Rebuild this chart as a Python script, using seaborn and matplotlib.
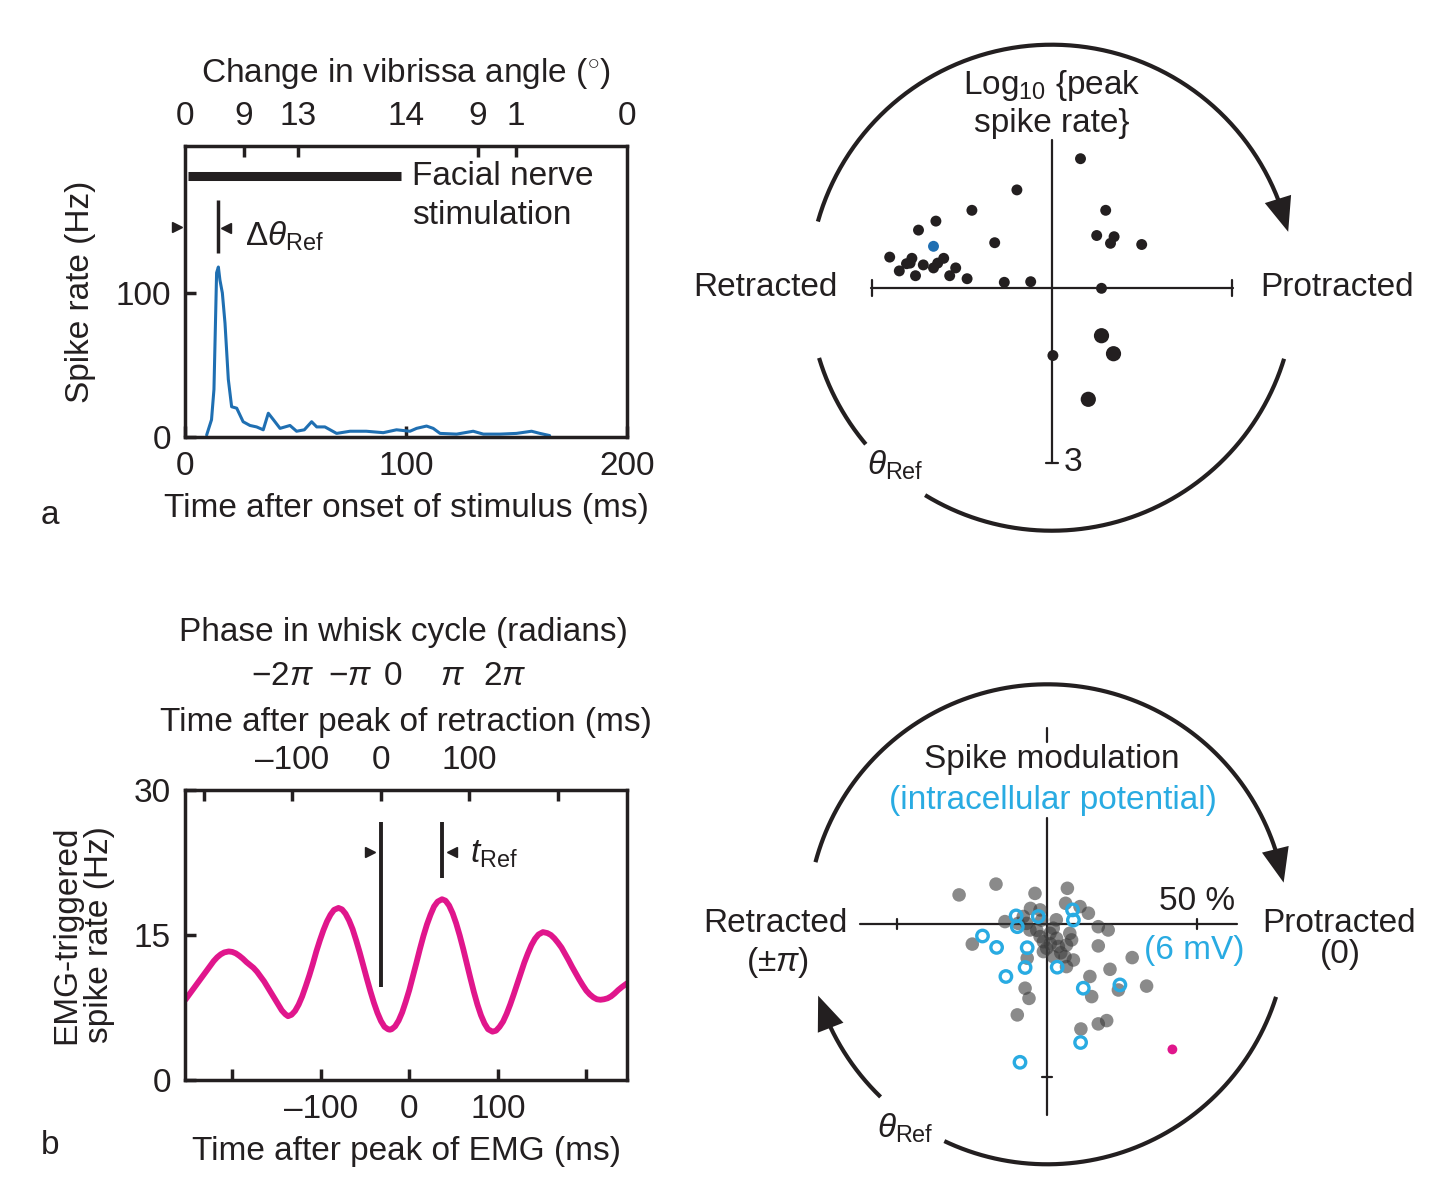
"""
Whisking / vibrissa spike-rate figure: PSTH, EMG-triggered rate and two
polar summaries of reference phase.
"""

import numpy as np
import matplotlib
matplotlib.use('Agg')
import matplotlib.pyplot as plt
import seaborn as sns

# ---------------- data ----------------
# panel a: spike rate after facial nerve stimulation
psth_t = [9.8, 12, 13.1, 14.3, 15.1, 15.8, 16.9, 18.1, 19.6, 21.1, 23.4, 26.3, 29.4,
          32.4, 35.4, 37.7, 40, 43, 47.5, 50.5, 54, 57.3, 59.6, 63.3, 68.6, 74.7,
          82, 89.7, 95.7, 101.8, 104.8, 109.3, 112.3, 115.4, 122.9, 130.4, 135,
          142.5, 150, 156.8, 160.6, 165]
psth_rate = [1.4, 12, 33, 114, 118, 109, 100, 79, 40, 21, 20, 10.6, 8,
             7, 5, 16.5, 12, 6, 8, 4, 5, 10.6, 7, 7, 2.5, 4,
             4, 3, 5, 4, 6, 7.6, 6, 2.5, 2, 4, 2,
             2, 2.5, 4, 2.5, 1]
angle_major_pos = [26.7, 51, 132.6, 149.8]
angle_major_lab = ['9', '13', '9', '1']
angle_minor_pos = [0, 100, 200]
angle_minor_lab = ['0', '14', '0']
stim_on, stim_off, stim_level = 1.4, 97.7, 181
dtheta_t, dtheta_lo, dtheta_hi = 15, 127.8, 164.6

# top-right polar: angle vs log10 peak spike rate (x, y in log10 units)
peak_x = [0.48, -0.58, -1.33, 0.90, -1.93, -2.22, 0.75, 1.04, 0.98, 1.50, -0.95,
          -2.70, -2.33, -2.42, -2.36, -2.54, -2.14, -2.27, -1.97, -1.90, -1.80,
          -1.70, -1.60, -1.41, -0.79, -0.35, 0.83, 0.02]
peak_y = [2.15, 1.63, 1.29, 1.29, 1.11, 0.96, 0.87, 0.85, 0.74, 0.72, 0.75,
          0.51, 0.49, 0.40, 0.41, 0.28, 0.38, 0.20, 0.33, 0.41, 0.49,
          0.20, 0.33, 0.15, 0.09, 0.10, -0.01, -1.13]
big_x = [0.83, 1.03, 0.61]
big_y = [-0.80, -1.10, -1.86]
example_x, example_y = [-1.97], [0.69]

# panel b: EMG-triggered spike rate
emg_t = [-253, -249, -245, -241, -237, -233, -229, -225, -221, -217, -213, -209, -204,
         -200, -196, -192, -188, -184, -180, -176, -172, -168, -164, -160, -156, -152,
         -148, -144, -140, -137, -133, -129, -125, -121, -117, -113, -109, -105, -101,
         -97, -93, -89, -85, -80, -76, -72, -68, -64, -60, -56, -52, -48, -44, -40,
         -36, -32, -28, -24, -22, -20, -16, -12, -8, -4, 0, 4, 8, 12, 16, 20, 24, 28,
         32, 37, 41, 45, 49, 53, 57, 61, 65, 69, 73, 77, 81, 85, 89, 94, 98, 102, 106,
         110, 114, 118, 122, 126, 130, 134, 138, 142, 146, 151, 156, 160, 164, 168, 172,
         176, 180, 184, 188, 192, 196, 200, 204, 208, 212, 216, 220, 224, 228, 232, 236,
         240, 246]
emg_rate = [8.3, 8.8, 9.3, 9.8, 10.3, 10.8, 11.3, 11.8, 12.3, 12.7, 13.0, 13.2, 13.3,
            13.25, 13.1, 12.85, 12.55, 12.2, 11.9, 11.6, 11.2, 10.7, 10.2, 9.6, 9.0, 8.4,
            7.8, 7.2, 6.8, 6.6, 6.75, 7.15, 7.8, 8.65, 9.7, 10.8, 12.0, 13.3, 14.45,
            15.5, 16.4, 17.1, 17.6, 17.8, 17.65, 17.2, 16.5, 15.6, 14.45, 13.2, 11.85,
            10.5, 9.2, 8.0, 6.95, 6.1, 5.5, 5.25, 5.2, 5.25, 5.55, 6.15, 7.0, 8.1, 9.3,
            10.7, 12.1, 13.55, 14.9, 16.1, 17.1, 17.95, 18.45, 18.7, 18.55, 18.05, 17.25,
            16.2, 14.95, 13.55, 12.05, 10.55, 9.1, 7.8, 6.7, 5.85, 5.25, 5.0, 5.1, 5.5,
            6.05, 6.85, 7.8, 8.85, 9.95, 11.05, 12.15, 13.1, 13.95, 14.6, 15.05, 15.3,
            15.2, 15.0, 14.65, 14.2, 13.7, 13.05, 12.4, 11.7, 11.05, 10.4, 9.8, 9.25,
            8.85, 8.55, 8.35, 8.3, 8.35, 8.45, 8.65, 8.95, 9.3, 9.6, 10.0]
retraction_offset = 32.3      # ms from EMG peak to retraction peak
tref_t = 37
phase_pos = [-143, -66.9, -18.4, 48.2, 107.6]
phase_lab = [r'$-2\pi$', r'$-\pi$', '0', r'$\pi$', r'$2\pi$']

# bottom-right polar: spike modulation (%) and Vm modulation
spike_x = [-29.4, -17.1, -4.1, 6.7, 6.1, 10.9, 13.7, -5.6, -2.4, -14.1, -6.9, -5.8,
           2.0, 3.1, -1.3, -0.2, 3.7, 6.4, 8.1, -1.3, 2.0, 5.9, 8.7, 6.4, 17.0,
           20.3, 17.0, -25.0, -6.7, 20.9, 28.3, 14.2, 23.7, 33.1, 14.8, -7.4, -6.1,
           -10.0, 11.2, 17.0, 19.8, -9.7, -8.0, -1.9, -2.4, 0.9, 1.0, 4.5, -3.5, 7.5, 3.0]
spike_y = [9.8, 13.4, 10.3, 12.0, 7.0, 5.9, 3.7, 5.3, 4.8, 0.9, 0.3, -1.9,
           -1.3, -4.7, -5.8, -8.0, -7.4, -6.9, -5.2, -9.1, -10.8, -10.8, -11.9, -14.1, -0.8,
           -1.9, -7.2, -6.6, -11.3, -15.0, -11.1, -17.4, -21.9, -20.6, -24.1, -21.3, -24.7,
           -30.2, -34.9, -33.2, -32.1, 0.3, 2.6, 1.4, -4.1, -3.0, -6.5, -9.5, -2.0, -3.0, 1.5]
vm_x = [-10.4, -10.0, -3.0, 8.4, 8.7, -21.6, -16.9, -6.7, -7.4, -13.8, 3.3, 12.0,
        24.2, 11.1, -9.1]
vm_y = [2.8, -0.8, 2.6, 4.8, 1.4, -3.9, -7.7, -7.8, -14.4, -17.4, -14.3, -21.3,
        -20.2, -39.4, -46.0]
emg_cell_x, emg_cell_y = [41.7], [-41.7]

# ---------------- style ----------------
sns.set_theme(style='ticks')
plt.rcParams['font.family'] = ['Liberation Sans', 'DejaVu Sans']
plt.rcParams['mathtext.fontset'] = 'custom'
plt.rcParams['mathtext.rm'] = 'Liberation Sans'
plt.rcParams['mathtext.it'] = 'Liberation Sans:italic'
plt.rcParams['mathtext.bf'] = 'Liberation Sans:bold'

K = '#231f20'
BLUE = '#1f6fb2'
MAGENTA = '#e0168c'
CYAN = '#29abe2'
FS = 24

W, H = 1454, 1198
fig = plt.figure(figsize=(W / 100, H / 100), dpi=100)


def px_axes(x0, y0, x1, y1):
    return fig.add_axes([x0 / W, 1 - y1 / H, (x1 - x0) / W, (y1 - y0) / H])


def box_style(ax):
    for s in ax.spines.values():
        s.set_linewidth(2.5)
        s.set_color(K)
        s.set_visible(True)
    ax.tick_params(direction='in', length=8, width=2.5, color=K,
                   labelsize=FS, labelcolor=K, pad=10)


# ---------------- panel a ----------------
ax_a = px_axes(185, 146, 627, 437)
box_style(ax_a)
sns.lineplot(x=psth_t, y=psth_rate, ax=ax_a, color=BLUE, lw=2.2)
ax_a.set_xlim(0, 200)
ax_a.set_ylim(0, 202)
ax_a.set_xticks([0, 100, 200])
ax_a.set_yticks([0, 100])
ax_a.set_xlabel('Time after onset of stimulus (ms)', fontsize=FS, color=K, labelpad=8)
ax_a.set_ylabel('Spike rate (Hz)', fontsize=FS, color=K, labelpad=14)

ax_at = ax_a.twiny()
ax_at.set_xlim(0, 200)
for s in ax_at.spines.values():
    s.set_visible(False)
ax_at.set_xticks(angle_major_pos, angle_major_lab)
ax_at.set_xticks(angle_minor_pos, angle_minor_lab, minor=True)
ax_at.tick_params(which='both', direction='in', length=8, width=2.5, color=K,
                  labelsize=FS, labelcolor=K, pad=10)
ax_at.tick_params(which='minor', length=0)
ax_at.set_xlabel(r'Change in vibrissa angle ($^{\circ}$)', fontsize=FS, color=K, labelpad=14)

ax_a.plot([stim_on, stim_off], [stim_level, stim_level], color=K, lw=6.5,
          solid_capstyle='butt')
ax_a.text(102.7, 180.5, 'Facial nerve', fontsize=FS, color=K, va='center')
ax_a.text(102.7, 153.5, 'stimulation', fontsize=FS, color=K, va='center')
ax_a.plot([dtheta_t, dtheta_t], [dtheta_lo, dtheta_hi], color=K, lw=2.5,
          solid_capstyle='butt')
ax_a.plot([-3.6], [145.8], marker='>', ms=7, color=K, clip_on=False)
ax_a.plot([18.6], [145], marker='<', ms=7, color=K)
ax_a.text(27.1, 139, r'$\Delta\theta_{\mathrm{Ref}}$', fontsize=FS, color=K, va='center')
fig.text(50 / W, 1 - 515 / H, 'a', fontsize=FS, color=K, ha='center', va='center')

# ---------------- panel b ----------------
ax_b = px_axes(185, 790, 627, 1080)
box_style(ax_b)
sns.lineplot(x=emg_t, y=emg_rate, ax=ax_b, color=MAGENTA, lw=4.2)
ax_b.set_xlim(-253.4, 246.0)
ax_b.set_ylim(0, 30)
ax_b.set_xticks([-200, -100, 0, 100, 200], ['', '\u2013100', '0', '100', ''])
ax_b.set_yticks([0, 15, 30])
ax_b.set_xlabel('Time after peak of EMG (ms)', fontsize=FS, color=K, labelpad=8)
ax_b.set_ylabel('EMG-triggered\nspike rate (Hz)', fontsize=FS, color=K,
                labelpad=14, linespacing=1.05)

ax_bt = ax_b.twiny()
ax_bt.set_xlim(-253.4 + retraction_offset, 246.0 + retraction_offset)
for s in ax_bt.spines.values():
    s.set_visible(False)
ax_bt.set_xticks([-200, -100, 0, 100, 200], ['', '\u2013100', '0', '100', ''])
ax_bt.tick_params(direction='in', length=8, width=2.5, color=K,
                  labelsize=FS, labelcolor=K, pad=10)
ax_bt.set_xlabel('Time after peak of retraction (ms)', fontsize=FS, color=K, labelpad=10)

trans = ax_b.get_xaxis_transform()
for p, lab in zip(phase_pos, phase_lab):
    ax_b.text(p, 1.39, lab, transform=trans, fontsize=FS, color=K,
              ha='center', va='center')
ax_b.text(-7, 1.542, 'Phase in whisk cycle (radians)', transform=trans,
          fontsize=FS, color=K, ha='center', va='center')

ax_b.plot([-retraction_offset] * 2, [9.6, 26.7], color=K, lw=2.8, solid_capstyle='butt')
ax_b.plot([tref_t] * 2, [20.9, 26.7], color=K, lw=2.8, solid_capstyle='butt')
ax_b.plot([-44.4], [23.6], marker='>', ms=7, color=K)
ax_b.plot([48.2], [23.6], marker='<', ms=7, color=K)
ax_b.text(68.5, 23.3, r'$t_{\mathrm{Ref}}$', fontsize=FS, color=K, va='center')
fig.text(50 / W, 1 - 1145 / H, 'b', fontsize=FS, color=K, ha='center', va='center')


# ---------------- polar helpers ----------------
def draw_arc(ax, r, a0, a1, arrow=False, lw=3):
    end = a1 + (4 if arrow else 0) * np.sign(a0 - a1)
    th = np.radians(np.linspace(a0, end, 300))
    ax.plot(r * np.cos(th), r * np.sin(th), color=K, lw=lw, solid_capstyle='butt')
    if arrow:
        back = np.radians(a1 + 8 * np.sign(a0 - a1))
        tip = np.radians(a1)
        ax.annotate('', xy=(r * np.cos(tip), r * np.sin(tip)),
                    xytext=(r * np.cos(back), r * np.sin(back)),
                    arrowprops=dict(arrowstyle='-|>,head_length=0.55,head_width=0.22',
                                    mutation_scale=45, color=K, lw=0,
                                    shrinkA=0, shrinkB=0))


# ---------------- top-right polar ----------------
ax_c = px_axes(680, 30, 1430, 545)
ax_c.set_xlim(-6.195, 6.305)
ax_c.set_ylim(-4.288, 4.295)
ax_c.axis('off')
ax_c.plot([-3.02, 3.02], [0, 0], color=K, lw=1.6)
ax_c.plot([0, 0], [-2.92, 2.46], color=K, lw=1.6)
for xt in (-3, 3):
    ax_c.plot([xt, xt], [-0.13, 0.13], color=K, lw=1.6)
ax_c.plot([-0.1, 0.1], [-2.92, -2.92], color=K, lw=1.6)
draw_arc(ax_c, 4.05, 164.2, 13.3, arrow=True)
draw_arc(ax_c, 4.05, 238.6, 343)
draw_arc(ax_c, 4.05, 196.8, 220.1)
sns.scatterplot(x=peak_x, y=peak_y, ax=ax_c, color=K, s=62, edgecolor='none',
                legend=False, zorder=3)
sns.scatterplot(x=big_x, y=big_y, ax=ax_c, color=K, s=120, edgecolor='none',
                legend=False, zorder=3)
sns.scatterplot(x=example_x, y=example_y, ax=ax_c, color=BLUE, s=62,
                edgecolor='none', legend=False, zorder=3)
ax_c.text(0, 3.378, 'Log$_{10}$ {peak', fontsize=FS, color=K, ha='center', va='center')
ax_c.text(0, 2.745, 'spike rate}', fontsize=FS, color=K, ha='center', va='center')
ax_c.text(-3.56, 0.01, 'Retracted', fontsize=FS, color=K, ha='right', va='center')
ax_c.text(3.47, 0.01, 'Protracted', fontsize=FS, color=K, ha='left', va='center')
ax_c.text(0.355, -2.92, '3', fontsize=FS, color=K, ha='center', va='center')
ax_c.text(-2.61, -2.955, r'$\theta_{\mathrm{Ref}}$', fontsize=FS, color=K,
          ha='center', va='center')

# ---------------- bottom-right polar ----------------
ax_d = px_axes(680, 670, 1430, 1175)
ax_d.set_xlim(-122.43, 127.57)
ax_d.set_ylim(-83.57, 84.77)
ax_d.axis('off')
ax_d.plot([-62.4, 63.2], [0, 0], color=K, lw=1.6)
ax_d.plot([0, 0], [-63.6, 35.4], color=K, lw=1.6)
ax_d.plot([0, 0], [60.8, 65.4], color=K, lw=1.6)
for xt in (-50, 50):
    ax_d.plot([xt, xt], [-1.7, 1.7], color=K, lw=1.6)
ax_d.plot([-1.7, 1.7], [-51, -51], color=K, lw=1.6)
draw_arc(ax_d, 80, 165, 10, arrow=True)
draw_arc(ax_d, 80, 342.4, 244.6)
draw_arc(ax_d, 80, 226, 197.3, arrow=True)
sns.scatterplot(x=spike_x, y=spike_y, ax=ax_d, color='#3c3c3c', alpha=0.6, s=95,
                edgecolor='none', legend=False, zorder=3)
sns.scatterplot(x=vm_x, y=vm_y, ax=ax_d, marker='o', facecolor='none',
                edgecolor=CYAN, linewidth=2.4, s=68, legend=False, zorder=4)
sns.scatterplot(x=emg_cell_x, y=emg_cell_y, ax=ax_d, color=MAGENTA, s=50,
                edgecolor='none', legend=False, zorder=4)
ax_d.text(1.6, 54.8, 'Spike modulation', fontsize=FS, color=K, ha='center', va='center')
ax_d.text(1.9, 41.4, '(intracellular potential)', fontsize=FS, color=CYAN,
          ha='center', va='center')
ax_d.text(-66.4, 0.4, 'Retracted', fontsize=FS, color=K, ha='right', va='center')
ax_d.text(-89.8, -12.9, r'($\pm\pi$)', fontsize=FS, color=K, ha='center', va='center')
ax_d.text(71.6, 0.4, 'Protracted', fontsize=FS, color=K, ha='left', va='center')
ax_d.text(97.6, -10.2, '(0)', fontsize=FS, color=K, ha='center', va='center')
ax_d.text(62.6, 7.5, '50 %', fontsize=FS, color=K, ha='right', va='center')
ax_d.text(65.9, -8.9, '(6 mV)', fontsize=FS, color=CYAN, ha='right', va='center')
ax_d.text(-47.4, -67.9, r'$\theta_{\mathrm{Ref}}$', fontsize=FS, color=K,
          ha='center', va='center')

fig.savefig('out.png', dpi=100)
